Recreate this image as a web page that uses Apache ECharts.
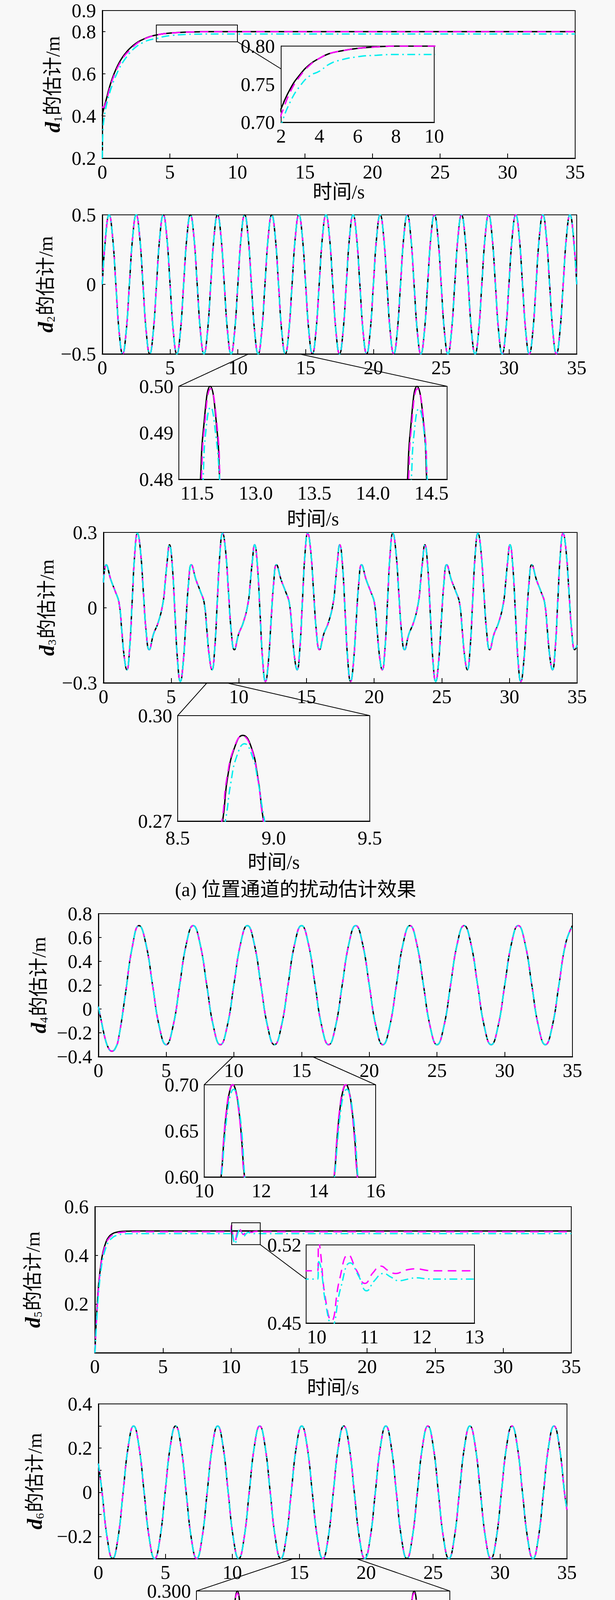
<!DOCTYPE html>
<html>
<head>
<meta charset="utf-8">
<title>扰动估计效果</title>
<script src="https://cdn.jsdelivr.net/npm/echarts/dist/echarts.min.js"></script>
<style>
  html, body { margin: 0; padding: 0; background: #f8f8f8; }
  #chart { width: 1575px; height: 4636px; }
</style>
</head>
<body>
<div id="chart"></div>
<script>
// ---------- data ----------
var names = ['时变扰动', '本文方法', '文献[25]'];

// d1
var d1Time = [0,0.05,0.15,0.3,0.5,0.75,1,1.25,1.5,1.75,2,2.5,3,3.5,4,4.5,5,6,7,8,10,15,20,25,30,35];
var d1True = [0.40,0.42,0.445,0.48,0.53,0.58,0.62,0.653,0.679,0.70,0.718,0.745,0.763,0.776,0.784,0.79,0.793,0.797,0.799,0.80,0.80,0.80,0.80,0.80,0.80,0.80];
var d1Ours = [0.445,0.44,0.445,0.47,0.52,0.572,0.612,0.645,0.672,0.694,0.71,0.741,0.761,0.775,0.784,0.79,0.793,0.797,0.799,0.80,0.80,0.80,0.80,0.80,0.80,0.80];
var d1Ref  = [0.20,0.33,0.40,0.45,0.50,0.55,0.59,0.625,0.653,0.676,0.697,0.728,0.748,0.761,0.767,0.776,0.781,0.786,0.788,0.789,0.789,0.789,0.789,0.789,0.789,0.789];

// d2
var d2Time = [
  0,0.25,0.5,0.75,1,1.25,1.5,1.75, 2,2.25,2.5,2.75,3,3.25,3.5,3.75,
  4,4.25,4.5,4.75,5,5.25,5.5,5.75, 6,6.25,6.5,6.75,7,7.25,7.5,7.75,
  8,8.25,8.5,8.75,9,9.25,9.5,9.75, 10,10.25,10.5,10.75,11,11.25,11.5,11.75,
  12,12.25,12.5,12.75,13,13.25,13.5,13.75, 14,14.25,14.5,14.75,15,15.25,15.5,15.75,
  16,16.25,16.5,16.75,17,17.25,17.5,17.75, 18,18.25,18.5,18.75,19,19.25,19.5,19.75,
  20,20.25,20.5,20.75,21,21.25,21.5,21.75, 22,22.25,22.5,22.75,23,23.25,23.5,23.75,
  24,24.25,24.5,24.75,25,25.25,25.5,25.75, 26,26.25,26.5,26.75,27,27.25,27.5,27.75,
  28,28.25,28.5,28.75,29,29.25,29.5,29.75, 30,30.25,30.5,30.75,31,31.25,31.5,31.75,
  32,32.25,32.5,32.75,33,33.25,33.5,33.75, 34,34.25,34.5,34.75,35
];
var d2Value = [
  0,0.35,0.5,0.35,0,-0.35,-0.5,-0.35, 0,0.35,0.5,0.35,0,-0.35,-0.5,-0.35,
  0,0.35,0.5,0.35,0,-0.35,-0.5,-0.35, 0,0.35,0.5,0.35,0,-0.35,-0.5,-0.35,
  0,0.35,0.5,0.35,0,-0.35,-0.5,-0.35, 0,0.35,0.5,0.35,0,-0.35,-0.5,-0.35,
  0,0.35,0.5,0.35,0,-0.35,-0.5,-0.35, 0,0.35,0.5,0.35,0,-0.35,-0.5,-0.35,
  0,0.35,0.5,0.35,0,-0.35,-0.5,-0.35, 0,0.35,0.5,0.35,0,-0.35,-0.5,-0.35,
  0,0.35,0.5,0.35,0,-0.35,-0.5,-0.35, 0,0.35,0.5,0.35,0,-0.35,-0.5,-0.35,
  0,0.35,0.5,0.35,0,-0.35,-0.5,-0.35, 0,0.35,0.5,0.35,0,-0.35,-0.5,-0.35,
  0,0.35,0.5,0.35,0,-0.35,-0.5,-0.35, 0,0.35,0.5,0.35,0,-0.35,-0.5,-0.35,
  0,0.35,0.5,0.35,0,-0.35,-0.5,-0.35, 0,0.35,0.5,0.35,0
];
var inset2Ticks = [12.5, 13, 13.5, 14, 14.5];
var inset2Labels = ['11.5', '13.0', '13.5', '14.0', '14.5'];
var inset2True = [[12.50,0.468],[12.529,0.48],[12.551,0.49],[12.611,0.50],[12.672,0.49],[12.692,0.48],[12.72,0.468],
                  [14.27,0.468],[14.296,0.48],[14.318,0.49],[14.376,0.50],[14.44,0.49],[14.459,0.48],[14.49,0.468]];
var inset2Ours = [[12.505,0.468],[12.536,0.48],[12.557,0.49],[12.615,0.4995],[12.676,0.49],[12.696,0.48],[12.725,0.468],
                  [14.275,0.468],[14.304,0.48],[14.324,0.49],[14.38,0.4995],[14.443,0.49],[14.463,0.48],[14.49,0.468]];
var inset2Ref  = [[12.53,0.468],[12.551,0.48],[12.573,0.49],[12.615,0.4955],[12.657,0.49],[12.692,0.48],[12.72,0.468],
                  [14.305,0.468],[14.328,0.48],[14.352,0.49],[14.392,0.4952],[14.437,0.49],[14.464,0.48],[14.49,0.468]];

// d3
var d3Time = [
  0,0.2,0.55,0.87,1.15,1.35,1.53,1.73,1.925,2.12,2.315,2.51,2.73,2.945,3.16,3.38,3.7,4.04,4.4,4.55,4.7,4.88,5.08,5.28,5.48,5.68,5.88,6.085,
  6.29,6.49,6.84,7.16,7.44,7.64,7.82,8.02,8.215,8.41,8.605,8.8,9.02,9.235,9.45,9.67,9.99,10.33,10.69,10.84,10.99,11.17,11.37,11.57,11.77,11.97,12.17,12.375,
  12.58,12.78,13.13,13.45,13.73,13.93,14.11,14.31,14.505,14.7,14.895,15.09,15.31,15.525,15.74,15.96,16.28,16.62,16.98,17.13,17.28,17.46,17.66,17.86,18.06,18.26,18.46,18.665,
  18.87,19.07,19.42,19.74,20.02,20.22,20.4,20.6,20.795,20.99,21.185,21.38,21.6,21.815,22.03,22.25,22.57,22.91,23.27,23.42,23.57,23.75,23.95,24.15,24.35,24.55,24.75,24.955,
  25.16,25.36,25.71,26.03,26.31,26.51,26.69,26.89,27.085,27.28,27.475,27.67,27.89,28.105,28.32,28.54,28.86,29.2,29.56,29.71,29.86,30.04,30.24,30.44,30.64,30.84,31.04,31.245,
  31.45,31.65,32,32.32,32.6,32.8,32.98,33.18,33.375,33.57,33.765,33.96,34.18,34.395,34.61,34.83,35
];
var d3Value = [
  0.10,0.171,0.11,0.065,0.02,-0.09,-0.195,-0.248,-0.168,0.025,0.217,0.297,0.229,0.065,-0.10,-0.168,-0.105,-0.06,0.02,0.095,0.18,0.251,0.171,-0.022,-0.215,-0.295,-0.227,-0.062,
  0.10,0.171,0.11,0.065,0.02,-0.09,-0.195,-0.248,-0.168,0.025,0.217,0.297,0.229,0.065,-0.10,-0.168,-0.105,-0.06,0.02,0.095,0.18,0.251,0.171,-0.022,-0.215,-0.295,-0.227,-0.062,
  0.10,0.171,0.11,0.065,0.02,-0.09,-0.195,-0.248,-0.168,0.025,0.217,0.297,0.229,0.065,-0.10,-0.168,-0.105,-0.06,0.02,0.095,0.18,0.251,0.171,-0.022,-0.215,-0.295,-0.227,-0.062,
  0.10,0.171,0.11,0.065,0.02,-0.09,-0.195,-0.248,-0.168,0.025,0.217,0.297,0.229,0.065,-0.10,-0.168,-0.105,-0.06,0.02,0.095,0.18,0.251,0.171,-0.022,-0.215,-0.295,-0.227,-0.062,
  0.10,0.171,0.11,0.065,0.02,-0.09,-0.195,-0.248,-0.168,0.025,0.217,0.297,0.229,0.065,-0.10,-0.168,-0.105,-0.06,0.02,0.095,0.18,0.251,0.171,-0.022,-0.215,-0.295,-0.227,-0.062,
  0.10,0.171,0.11,0.065,0.02,-0.09,-0.195,-0.248,-0.168,0.025,0.217,0.297,0.229,0.065,-0.10,-0.168,-0.15
];
var inset3True = [[8.72,0.2685],[8.734,0.27],[8.76,0.2825],[8.80,0.2915],[8.839,0.2944],[8.88,0.2915],[8.917,0.2825],[8.947,0.27],[8.96,0.2685]];
var inset3Ours = [[8.715,0.2685],[8.73,0.27],[8.757,0.2825],[8.798,0.2915],[8.837,0.2942],[8.878,0.2915],[8.916,0.2825],[8.946,0.27],[8.96,0.2685]];
var inset3Ref  = [[8.735,0.2685],[8.748,0.27],[8.777,0.281],[8.808,0.2885],[8.848,0.292],[8.888,0.2885],[8.919,0.281],[8.953,0.27],[8.965,0.2685]];

// d4
var d4Time = [0,0.25,0.5,0.75,1,1.25,1.5,2,2.5,
  3,3.5,4,4.5,5,5.5,6,6.5, 7,7.5,8,8.5,9,9.5,10,10.5, 11,11.5,12,12.5,13,13.5,14,14.5,
  15,15.5,16,16.5,17,17.5,18,18.5, 19,19.5,20,20.5,21,21.5,22,22.5, 23,23.5,24,24.5,25,25.5,26,26.5,
  27,27.5,28,28.5,29,29.5,30,30.5, 31,31.5,32,32.5,33,33.5,34,34.5, 35];
var d4Value = [0.02,-0.12,-0.25,-0.33,-0.354,-0.33,-0.24,0.13,0.52,
  0.70,0.55,0.20,-0.15,-0.30,-0.15,0.20,0.55, 0.70,0.55,0.20,-0.15,-0.30,-0.15,0.20,0.55,
  0.70,0.55,0.20,-0.15,-0.30,-0.15,0.20,0.55, 0.70,0.55,0.20,-0.15,-0.30,-0.15,0.20,0.55,
  0.70,0.55,0.20,-0.15,-0.30,-0.15,0.20,0.55, 0.70,0.55,0.20,-0.15,-0.30,-0.15,0.20,0.55,
  0.70,0.55,0.20,-0.15,-0.30,-0.15,0.20,0.55, 0.70,0.55,0.20,-0.15,-0.30,-0.15,0.20,0.55, 0.70];
var inset4True = [[10.5,0.588],[10.59,0.60],[10.7,0.645],[10.8,0.676],[10.9,0.694],[11.0,0.70],[11.1,0.694],[11.2,0.676],[11.3,0.645],[11.41,0.60],[11.5,0.588],
                  [14.46,0.588],[14.55,0.60],[14.66,0.645],[14.76,0.676],[14.86,0.694],[14.96,0.70],[15.06,0.694],[15.16,0.676],[15.26,0.645],[15.37,0.60],[15.46,0.588]];
var inset4Ours = [[10.49,0.588],[10.58,0.60],[10.69,0.645],[10.79,0.676],[10.89,0.694],[10.99,0.70],[11.09,0.694],[11.19,0.676],[11.29,0.645],[11.40,0.60],[11.49,0.588],
                  [14.45,0.588],[14.54,0.60],[14.65,0.645],[14.75,0.676],[14.85,0.694],[14.95,0.70],[15.05,0.694],[15.15,0.676],[15.25,0.645],[15.36,0.60],[15.45,0.588]];
var inset4Ref  = [[10.52,0.585],[10.6,0.60],[10.72,0.643],[10.82,0.672],[10.93,0.69],[11.03,0.695],[11.13,0.69],[11.23,0.672],[11.33,0.643],[11.42,0.60],[11.5,0.585],
                  [14.48,0.585],[14.56,0.60],[14.68,0.643],[14.78,0.672],[14.89,0.69],[14.99,0.695],[15.09,0.69],[15.19,0.672],[15.29,0.643],[15.38,0.60],[15.46,0.585]];

// d5
var d5True = [[0,0],[0.05,0.07],[0.1,0.13],[0.2,0.222],[0.3,0.293],[0.45,0.366],[0.6,0.414],[0.8,0.452],[1.0,0.474],
              [1.3,0.489],[1.6,0.495],[2.0,0.4985],[2.5,0.4995],[3,0.5],[35,0.5]];
var d5Ours = [[0,0],[0.05,0.06],[0.1,0.12],[0.2,0.21],[0.3,0.285],[0.45,0.36],[0.6,0.408],[0.8,0.446],[1.0,0.468],
              [1.3,0.484],[1.6,0.491],[2.0,0.495],[2.5,0.4965],[3,0.4968],[10.0,0.4968],[10.02,0.4968],[10.04,0.523],
              [10.07,0.515],[10.16,0.474],[10.28,0.452],[10.44,0.49],[10.6,0.5111],[10.76,0.497],[10.92,0.4855],
              [11.07,0.495],[11.22,0.501],[11.36,0.497],[11.5,0.4944],[11.7,0.4975],[11.89,0.4986],[12.1,0.4972],
              [12.26,0.4968],[35,0.4968]];
var d5Ref  = [[0,0],[0.05,0.05],[0.1,0.1],[0.2,0.19],[0.3,0.265],[0.45,0.34],[0.6,0.39],[0.8,0.43],[1.0,0.455],
              [1.3,0.473],[1.6,0.482],[2.0,0.487],[2.5,0.489],[3,0.4894],[10.0,0.4894],[10.02,0.4894],[10.04,0.505],
              [10.08,0.500],[10.18,0.465],[10.29,0.4475],[10.46,0.482],[10.64,0.5039],[10.8,0.492],[10.95,0.4789],
              [11.1,0.488],[11.27,0.4944],[11.42,0.491],[11.56,0.4879],[11.75,0.4895],[11.89,0.4905],[12.1,0.4896],
              [12.3,0.4894],[35,0.4894]];

// d6
var d6Time = [0,
  0.275,0.67,1.06,1.45,1.845,2.24,2.63,3.02, 3.415,3.81,4.2,4.59,4.985,5.38,5.77,6.16,
  6.555,6.95,7.34,7.73,8.125,8.52,8.91,9.3, 9.695,10.09,10.48,10.87,11.265,11.66,12.05,12.44,
  12.835,13.23,13.62,14.01,14.405,14.8,15.19,15.58, 15.975,16.37,16.76,17.15,17.545,17.94,18.33,18.72,
  19.115,19.51,19.9,20.29,20.685,21.08,21.47,21.86, 22.255,22.65,23.04,23.43,23.825,24.22,24.61,25,
  25.395,25.79,26.18,26.57,26.965,27.36,27.75,28.14, 28.535,28.93,29.32,29.71,30.105,30.5,30.89,31.28,
  31.675,32.07,32.46,32.85,33.245,33.64,34.03,34.42, 34.815,35];
var d6Value = [0.13,
  0,-0.212,-0.3,-0.212,0,0.212,0.3,0.212, 0,-0.212,-0.3,-0.212,0,0.212,0.3,0.212,
  0,-0.212,-0.3,-0.212,0,0.212,0.3,0.212, 0,-0.212,-0.3,-0.212,0,0.212,0.3,0.212,
  0,-0.212,-0.3,-0.212,0,0.212,0.3,0.212, 0,-0.212,-0.3,-0.212,0,0.212,0.3,0.212,
  0,-0.212,-0.3,-0.212,0,0.212,0.3,0.212, 0,-0.212,-0.3,-0.212,0,0.212,0.3,0.212,
  0,-0.212,-0.3,-0.212,0,0.212,0.3,0.212, 0,-0.212,-0.3,-0.212,0,0.212,0.3,0.212,
  0,-0.212,-0.3,-0.212,0,0.212,0.3,0.212, 0,-0.08];
var inset6True = [[15.08,0.2875],[15.10,0.29],[15.16,0.2973],[15.227,0.30],[15.29,0.2973],[15.355,0.29],[15.375,0.2875],
                  [18.22,0.2875],[18.24,0.29],[18.30,0.2973],[18.367,0.30],[18.43,0.2973],[18.495,0.29],[18.515,0.2875]];
var inset6Ours = [[15.075,0.2875],[15.097,0.29],[15.158,0.2973],[15.225,0.2998],[15.29,0.2973],[15.357,0.29],[15.38,0.2875],
                  [18.215,0.2875],[18.237,0.29],[18.298,0.2973],[18.365,0.2998],[18.43,0.2973],[18.497,0.29],[18.52,0.2875]];
var inset6Ref  = [[15.105,0.2875],[15.123,0.29],[15.185,0.2962],[15.25,0.2984],[15.315,0.2962],[15.38,0.29],[15.40,0.2875],
                  [18.245,0.2875],[18.263,0.29],[18.325,0.2962],[18.39,0.2984],[18.455,0.2962],[18.52,0.29],[18.54,0.2875]];

// zoom windows and the lines that tie them to their insets
var zoomBoxes = [
  {grid: 0, box: [4, 10, 0.752, 0.8315]},
  {grid: 8, box: [10.05, 12.15, 0.444, 0.534]}
];
var links = [
  [0, [10, 0.752], 1, [2, 0.77]],
  [2, [10.8, -0.5], 3, ['min', 0.5]],
  [2, [14.52, -0.5], 3, ['max', 0.5]],
  [4, [7.65, -0.3], 5, [8.5, 0.3]],
  [4, [9.09, -0.3], 5, [9.5, 0.3]],
  [6, [9.95, -0.4], 7, [10, 0.7]],
  [6, [15.8, -0.4], 7, [16, 0.7]],
  [8, [12.15, 0.444], 9, [9.8, 0.4894]],
  [10, [14.58, -0.3], 11, [14.5, 0.3]],
  [10, [19.25, -0.3], 11, [19, 0.3]]
];

// ---------- chart ----------
var SERIF = "'Liberation Serif', 'Times New Roman', 'Noto Sans CJK SC', serif";
var FS = 50;
// svg keeps the tall page clear of canvas size limits
var chart = echarts.init(document.getElementById('chart'), null, {renderer: 'svg'});

var grids = [
  [262, 27, 1211, 378], [720, 118, 392, 195],
  [262, 550, 1215, 356], [458, 989, 687, 238],
  [265, 1363, 1213, 385], [455, 1832, 492, 270],
  [252, 2339, 1214, 366], [523, 2777, 439, 236],
  [243, 3089, 1220, 374], [784, 3187, 431, 200],
  [252, 3594, 1200, 396], [503, 4073, 649, 273]
].map(function (g, i) {
  return {left: g[0], top: g[1], width: g[2], height: g[3], show: true,
          borderColor: '#000', borderWidth: 2,
          backgroundColor: i % 2 ? '#f8f8f8' : 'transparent', z: i % 2 ? 3 : 2};
});

function num(d) {
  return function (v) {
    if (Math.abs(v) < 1e-9) return '0';
    return v.toFixed(d).replace('-', '\u2212');
  };
}
function lab(o) {
  return Object.assign({fontSize: FS, color: '#000', fontFamily: SERIF, margin: 10}, o);
}
function xAx(gi, o) {
  var inset = gi % 2 === 1;
  return Object.assign({
    type: 'value', gridIndex: gi,
    axisLine: {show: true, onZero: false, lineStyle: {color: '#000', width: 3}},
    axisTick: {show: true, inside: true, length: inset ? 8 : 12, lineStyle: {color: '#000', width: 2}},
    axisLabel: lab({}),
    splitLine: {show: false},
    nameLocation: 'middle',
    nameTextStyle: {fontSize: FS, color: '#000', fontFamily: SERIF}
  }, o);
}
function yAx(gi, o) {
  var inset = gi % 2 === 1;
  return Object.assign({
    type: 'value', gridIndex: gi,
    axisLine: {show: true, onZero: false, lineStyle: {color: '#000', width: 3}},
    axisTick: {show: true, inside: true, length: inset ? 6 : 8, lineStyle: {color: '#000', width: 2}},
    axisLabel: lab({margin: 16}),
    splitLine: {show: false},
    nameLocation: 'middle', nameRotate: 90,
    nameTextStyle: {
      color: '#000',
      rich: {
        i: {fontSize: 54, fontStyle: 'italic', fontWeight: 'bold', fontFamily: SERIF, color: '#000'},
        s: {fontSize: 30, fontFamily: SERIF, color: '#000', verticalAlign: 'bottom', padding: [22, 2, 0, 0]},
        t: {fontSize: FS, fontFamily: SERIF, color: '#000'}
      }
    }
  }, o);
}
function yName(n) { return '{i|d}{s|' + n + '}{t|的估计/m}'; }
function intLabel(v) { return String(Math.round(v)); }
var mainX = {min: 0, max: 35, interval: 5, axisLabel: lab({formatter: intLabel})};

var xAxes = [
  xAx(0, Object.assign({}, mainX, {name: '时间/s', nameGap: 60})),
  xAx(1, {min: 2, max: 10, interval: 2}),
  xAx(2, mainX),
  xAx(3, {min: 12.344, max: 14.633, splitNumber: 5, name: '时间/s', nameGap: 76,
          axisLabel: lab({showMinLabel: false, showMaxLabel: false,
                          formatter: function (v) {
                            for (var i = 0; i < inset2Ticks.length; i++) if (Math.abs(v - inset2Ticks[i]) < 1e-6) return inset2Labels[i];
                            return '';
                          }})}),
  xAx(4, mainX),
  xAx(5, {min: 8.5, max: 9.5, interval: 0.5, name: '时间/s', nameGap: 80, axisLabel: lab({margin: 18, formatter: num(1)})}),
  xAx(6, mainX),
  xAx(7, {min: 10, max: 16, interval: 2}),
  xAx(8, Object.assign({}, mainX, {name: '时间/s', nameGap: 64})),
  xAx(9, {min: 9.8, max: 13, splitNumber: 3, axisLabel: lab({showMinLabel: false, formatter: intLabel})}),
  xAx(10, mainX),
  xAx(11, {min: 14.5, max: 19, splitNumber: 5, name: '时间/s', nameGap: 92,
           axisLabel: lab({showMinLabel: false, formatter: intLabel})})
];

var yAxes = [
  yAx(0, {min: 0.2, max: 0.9, interval: 0.2, name: yName(1), nameGap: 100, axisLabel: lab({margin: 16, formatter: num(1)})}),
  yAx(1, {min: 0.70, max: 0.80, interval: 0.05, axisLabel: lab({margin: 16, formatter: num(2)})}),
  yAx(2, {min: -0.5, max: 0.5, interval: 0.5, name: yName(2), nameGap: 102, axisLabel: lab({margin: 16, formatter: num(1)})}),
  yAx(3, {min: 0.48, max: 0.50, interval: 0.01, axisLabel: lab({margin: 14, formatter: num(2)})}),
  yAx(4, {min: -0.3, max: 0.3, interval: 0.3, name: yName(3), nameGap: 105, axisLabel: lab({margin: 16, formatter: num(1)})}),
  yAx(5, {min: 0.27, max: 0.30, interval: 0.03, axisLabel: lab({margin: 14, formatter: num(2)})}),
  yAx(6, {min: -0.4, max: 0.8, interval: 0.2, name: yName(4), nameGap: 126, axisLabel: lab({margin: 16, formatter: num(1)})}),
  yAx(7, {min: 0.6, max: 0.7, interval: 0.05, axisLabel: lab({margin: 14, formatter: num(2)})}),
  yAx(8, {min: 0, max: 0.6, interval: 0.2, name: yName(5), nameGap: 132,
          axisLabel: lab({margin: 16, formatter: function (v) { return Math.abs(v) < 1e-9 ? '' : v.toFixed(1); }})}),
  yAx(9, {min: 0.45, max: 0.52, interval: 0.01, axisTick: {show: false},
          axisLabel: lab({margin: 12, formatter: function (v) { var k = Math.round(v * 100); return (k === 45 || k === 52) ? (k / 100).toFixed(2) : ''; }})}),
  yAx(10, {min: -0.3, max: 0.4, interval: 0.1, name: yName(6), nameGap: 136,
           axisLabel: lab({margin: 16, formatter: function (v) { var k = Math.round(v * 10); return (k % 2 !== 0) ? '' : num(1)(k / 10); }})}),
  yAx(11, {min: 0.29, max: 0.30, interval: 0.005, axisLabel: lab({margin: 14, formatter: num(3)})})
];

var lineStyles = [
  {color: '#000000', width: 3.5, type: 'solid'},
  {color: '#ff00ff', width: 3.5, type: [22, 14]},
  {color: '#00eeee', width: 3.5, type: [20, 9, 4, 9]}
];
function zip(t, v) { return t.map(function (x, i) { return [x, v[i]]; }); }
function line(gi, k, data) {
  return {type: 'line', name: names[k], xAxisIndex: gi, yAxisIndex: gi, data: data,
          symbol: 'none', showSymbol: false, smooth: true, clip: true, animation: false,
          lineStyle: lineStyles[k], z: 3 + k, silent: true};
}

var series = [
  line(0, 0, zip(d1Time, d1True)), line(0, 1, zip(d1Time, d1Ours)), line(0, 2, zip(d1Time, d1Ref)),
  line(1, 0, zip(d1Time, d1True)), line(1, 1, zip(d1Time, d1Ours)), line(1, 2, zip(d1Time, d1Ref)),
  line(2, 0, zip(d2Time, d2Value)), line(2, 1, zip(d2Time, d2Value)), line(2, 2, zip(d2Time, d2Value)),
  line(3, 0, inset2True), line(3, 1, inset2Ours), line(3, 2, inset2Ref),
  line(4, 0, zip(d3Time, d3Value)), line(4, 1, zip(d3Time, d3Value)), line(4, 2, zip(d3Time, d3Value)),
  line(5, 0, inset3True), line(5, 1, inset3Ours), line(5, 2, inset3Ref),
  line(6, 0, zip(d4Time, d4Value)), line(6, 1, zip(d4Time, d4Value)), line(6, 2, zip(d4Time, d4Value)),
  line(7, 0, inset4True), line(7, 1, inset4Ours), line(7, 2, inset4Ref),
  line(8, 0, d5True), line(8, 1, d5Ours), line(8, 2, d5Ref),
  line(9, 1, d5Ours), line(9, 2, d5Ref),
  line(10, 0, zip(d6Time, d6Value)), line(10, 1, zip(d6Time, d6Value)), line(10, 2, zip(d6Time, d6Value)),
  line(11, 0, inset6True), line(11, 1, inset6Ours), line(11, 2, inset6Ref)
];

chart.setOption({
  backgroundColor: '#f8f8f8',
  animation: false,
  textStyle: {fontFamily: SERIF, color: '#000'},
  grid: grids,
  xAxis: xAxes,
  yAxis: yAxes,
  series: series,
  legend: {
    left: 245, top: 4576, padding: 0, itemWidth: 106, itemHeight: 20, itemGap: 20, selectedMode: false,
    textStyle: {fontSize: FS, color: '#000', fontFamily: SERIF},
    data: [
      {name: names[0], lineStyle: {color: '#000', width: 4, type: 'solid'}},
      {name: names[1], lineStyle: {color: '#8a8a8a', width: 5, type: [20, 10]}},
      {name: names[2], lineStyle: {color: '#b5b5b5', width: 4, type: [12, 6, 4, 6]}}
    ]
  }
});

// zoom boxes, connector lines and captions placed through the axes
function px(gi, pt) {
  var xa = chart.getModel().getComponent('xAxis', gi).axis.scale.getExtent();
  var x = pt[0] === 'min' ? xa[0] : pt[0] === 'max' ? xa[1] : pt[0];
  return chart.convertToPixel({xAxisIndex: gi, yAxisIndex: gi}, [x, pt[1]]);
}
var graphics = [];
zoomBoxes.forEach(function (z) {
  var a = px(z.grid, [z.box[0], z.box[3]]);
  var b = px(z.grid, [z.box[1], z.box[2]]);
  graphics.push({type: 'rect', z: 50, silent: true,
                 shape: {x: a[0], y: a[1], width: b[0] - a[0], height: b[1] - a[1]},
                 style: {fill: 'none', stroke: '#000', lineWidth: 2}});
});
links.forEach(function (l) {
  var a = px(l[0], l[1]);
  var b = px(l[2], l[3]);
  graphics.push({type: 'line', z: 50, silent: true,
                 shape: {x1: a[0], y1: a[1], x2: b[0], y2: b[1]},
                 style: {stroke: '#000', lineWidth: 2}});
});
var captions = [
  {text: '(a) 位置通道的扰动估计效果', x: 757, y: 2277},
  {text: '(b) 姿态通道的扰动估计效策', x: 831, y: 4532}
];
captions.forEach(function (c) {
  graphics.push({type: 'text', z: 50, silent: true, x: c.x, y: c.y,
                 style: {text: c.text, fontSize: FS, fontFamily: SERIF, fill: '#000',
                         textAlign: 'center', textVerticalAlign: 'middle'}});
});
chart.setOption({graphic: graphics});
</script>
</body>
</html>
